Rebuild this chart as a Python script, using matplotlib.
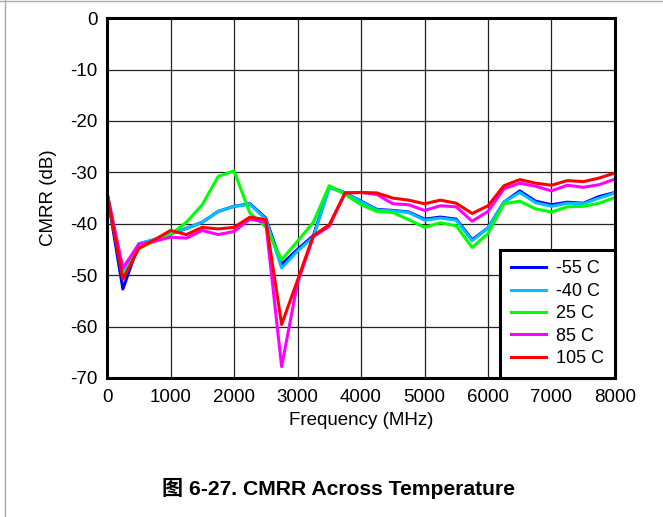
import numpy as np
import matplotlib
matplotlib.use("Agg")
import matplotlib.pyplot as plt
from matplotlib.lines import Line2D

plt.rcParams['font.family'] = ['Liberation Sans', 'Noto Sans CJK SC', 'DejaVu Sans']
plt.rcParams['axes.unicode_minus'] = False

# frequency in MHz, 250 MHz steps
freq = np.arange(0, 8001, 250)

# CMRR (dB)
cmrr_m55 = [-34.0, -52.7, -43.9, -43.1, -42.0, -40.9, -39.7, -37.6, -36.6, -36.1, -38.9,
            -47.9, -45.0, -42.3, -32.8, -34.0, -35.6, -37.2, -37.4, -37.7, -39.1, -38.7,
            -39.1, -43.1, -40.8, -35.8, -33.6, -35.6, -36.3, -35.8, -36.0, -34.7, -33.9]
cmrr_m40 = [-34.0, -49.2, -43.9, -43.0, -42.0, -40.9, -39.7, -37.6, -36.6, -36.2, -39.1,
            -48.6, -45.3, -42.6, -33.0, -34.0, -35.7, -37.3, -37.5, -37.8, -39.3, -38.9,
            -39.3, -43.3, -40.8, -35.8, -33.9, -35.9, -36.6, -36.0, -36.1, -35.0, -34.0]
cmrr_25 = [-34.0, -50.4, -44.8, -43.4, -42.1, -39.7, -36.3, -30.8, -29.7, -37.9, -40.6,
           -47.0, -43.4, -39.7, -32.6, -34.3, -36.3, -37.6, -37.8, -39.2, -40.7, -39.8,
           -40.4, -44.6, -41.9, -36.1, -35.6, -37.1, -37.7, -36.7, -36.6, -36.0, -34.9]
cmrr_85 = [-34.0, -48.6, -44.0, -43.4, -42.6, -42.8, -41.3, -42.1, -41.5, -39.1, -39.7,
           -67.8, -51.5, -42.5, -40.5, -34.0, -33.9, -34.3, -36.1, -36.3, -37.4, -36.5,
           -36.7, -39.5, -37.6, -33.2, -32.1, -32.7, -33.6, -32.5, -32.9, -32.4, -31.3]
cmrr_105 = [-34.0, -50.8, -44.8, -43.1, -41.3, -42.1, -40.7, -41.0, -40.7, -38.7, -39.2,
            -59.6, -51.0, -42.3, -40.2, -34.0, -33.9, -34.0, -35.0, -35.4, -36.1, -35.4,
            -36.0, -38.0, -36.5, -32.6, -31.4, -32.1, -32.5, -31.6, -31.8, -31.1, -30.1]

labels = ["-55 C", "-40 C", "25 C", "85 C", "105 C"]
colors = ["#0000ff", "#00bfff", "#00ff00", "#ff00ff", "#ff0000"]
series = [cmrr_m55, cmrr_m40, cmrr_25, cmrr_85, cmrr_105]

fig = plt.figure(figsize=(6.63, 5.17), dpi=100)
ax = fig.add_axes([0.1614, 0.2689, 0.7662, 0.6959])

for vals, col, lab in zip(series, colors, labels):
    ax.plot(freq, vals, color=col, lw=2.2, label=lab)

ax.set_xlim(0, 8000)
ax.set_ylim(-70, 0)
ax.set_xticks(np.arange(0, 8001, 1000))
ax.set_yticks(np.arange(-70, 1, 10))
ax.grid(True, color="#222222", lw=0.9)
ax.set_axisbelow(True)
ax.tick_params(length=0, labelsize=13.5)
ax.tick_params(axis="x", pad=8)
ax.tick_params(axis="y", pad=7)
for s in ax.spines.values():
    s.set_linewidth(2.2)
    s.set_zorder(5)

ax.set_xlabel("Frequency (MHz)", fontsize=13.5, labelpad=4)
ax.set_ylabel("CMRR (dB)", fontsize=13.5, labelpad=9)

leg = ax.legend(loc="lower right", fontsize=13, frameon=True, fancybox=False,
                borderaxespad=0, handlelength=1.95, handletextpad=0.55,
                labelspacing=0.3, borderpad=0.6)
leg.get_frame().set_edgecolor("black")
leg.get_frame().set_linewidth(2.2)
leg.get_frame().set_alpha(1)
leg.set_zorder(6)

fig.text(0.51, 0.056, "图 6-27. CMRR Across Temperature", ha="center", va="center",
         fontsize=15.2, fontweight="bold")

# thin grey page edge at top and left
fig.add_artist(Line2D([0.0068, 0.0068], [0, 1], color="#aaaaaa", lw=1))
fig.add_artist(Line2D([0, 1], [0.999, 0.999], color="#aaaaaa", lw=1))

fig.savefig("out.png", dpi=100)
